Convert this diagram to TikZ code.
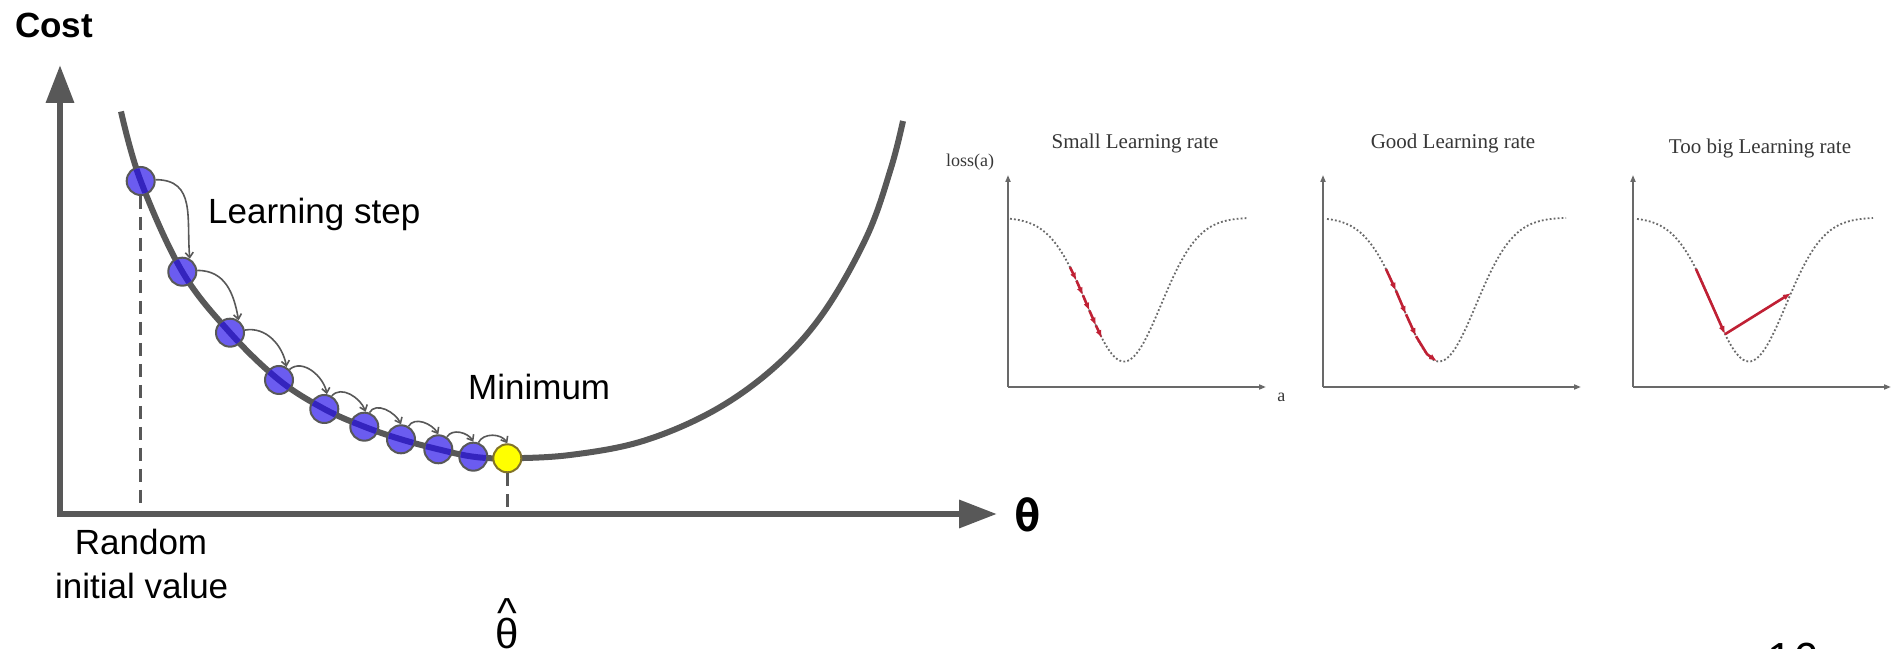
\documentclass[tikz,border=0pt]{standalone}
\usepackage{fontspec}
\setmainfont{Liberation Sans}
\newfontfamily\panelfont{Liberation Serif}
\newfontfamily\thetafont{DejaVu Sans Mono}
\usepackage{xcolor}
\usetikzlibrary{arrows.meta,positioning,calc}

\definecolor{axisgray}{RGB}{88,88,88}
\definecolor{stepblue}{RGB}{107,92,240}
\definecolor{stepline}{RGB}{52,36,190}
\definecolor{minyellow}{RGB}{255,255,0}
\definecolor{minedge}{RGB}{130,115,40}
\definecolor{panelgray}{RGB}{105,105,105}
\definecolor{panelred}{RGB}{192,32,52}
\definecolor{paneltext}{RGB}{55,55,55}

\newcommand{\costcurve}{plot[smooth, tension=0.6] coordinates {(121,536.5) (c1) (c2) (c3) (c4) (c5) (c6) (c7) (c8) (c9) (cmin) (570,193) (643,207) (715,238) (776,282) (824,336) (867,412) (891,480) (903,527)}}

\begin{document}
\begin{tikzpicture}[x=1pt, y=1pt, declare function={loss(\x)=430.5-144*exp(-0.5*((\x-116)/37)^2);}]
  \tikzstyle{axis} = [line width=6.5pt, draw=axisgray]
  \tikzstyle{costline} = [line width=6pt, draw=axisgray]
  \tikzstyle{stepdot} = [circle, minimum size=28pt, inner sep=0pt, fill=stepblue, draw=axisgray, line width=2pt]
  \tikzstyle{mindot} = [stepdot, fill=minyellow, draw=minedge]
  \tikzstyle{hop} = [-{Straight Barb[length=5pt,width=8pt]}, line width=1.6pt, draw=axisgray]
  \tikzstyle{guide} = [line width=3.5pt, draw=axisgray, dash pattern=on 13pt off 8pt]
  \tikzstyle{lbl} = [font=\fontsize{35}{42}\selectfont, inner sep=0pt]
  \tikzstyle{paxis} = [-{Triangle[length=7pt,width=5pt]}, line width=1.8pt, draw=panelgray]
  \tikzstyle{pdots} = [draw=panelgray, line width=1.8pt, dash pattern=on 1.8pt off 2.2pt]
  \tikzstyle{pstep} = [-{Latex[length=8pt,width=6pt]}, line width=2.6pt, draw=panelred]
  \tikzstyle{ptitle} = [font=\panelfont\fontsize{21}{24}\selectfont, text=paneltext]

  \useasboundingbox (0,0) rectangle (1901,648);
  \fill[white] (0,0) rectangle (1901,648);

  % Cost plot axes
  \coordinate (O) at (60,134);
  \coordinate (ytip) at (60,583);
  \coordinate (xtip) at (997,134);
  \draw[axis, {Triangle[length=38pt,width=27pt]}-{Triangle[length=38pt,width=27pt]}] (ytip) -- (O) -- (xtip);

  % Positions of the learning steps
  \coordinate (c1) at (140.7,467);
  \coordinate (c2) at (182.3,376.3);
  \coordinate (c3) at (230,315.3);
  \coordinate (c4) at (279,268);
  \coordinate (c5) at (324.3,239);
  \coordinate (c6) at (364.3,221.3);
  \coordinate (c7) at (401,208.7);
  \coordinate (c8) at (438.3,198.7);
  \coordinate (c9) at (473.3,191.3);
  \coordinate (cmin) at (507.3,189.7);

  \draw[costline] \costcurve;

  \node[stepdot] (p1) at (c1) {};
  \node[stepdot] (p2) at (c2) {};
  \node[stepdot] (p3) at (c3) {};
  \node[stepdot] (p4) at (c4) {};
  \node[stepdot] (p5) at (c5) {};
  \node[stepdot] (p6) at (c6) {};
  \node[stepdot] (p7) at (c7) {};
  \node[stepdot] (p8) at (c8) {};
  \node[stepdot] (p9) at (c9) {};
  \node[mindot] (pmin) at (cmin) {};

  % curve seen through the dots
  \begin{scope}
    \clip (c1) circle (13pt) (c2) circle (13pt) (c3) circle (13pt) (c4) circle (13pt) (c5) circle (13pt)
          (c6) circle (13pt) (c7) circle (13pt) (c8) circle (13pt) (c9) circle (13pt);
    \draw[costline, draw=stepline] \costcurve;
  \end{scope}

  % Learning steps
  \draw[hop] (p1.5) to[out=0,in=95,looseness=1.2] (p2.60);
  \draw[hop] (p2.5) to[out=0,in=100,looseness=1.1] (p3.55);
  \draw[hop] (p3.10) to[out=10,in=100] (p4.60);
  \draw[hop] (p4.45) to[out=40,in=100] (p5.80);
  \draw[hop] (p5.60) to[out=50,in=110] (p6.85);
  \draw[hop] (p6.70) to[out=60,in=115] (p7.90);
  \draw[hop] (p7.60) to[out=60,in=120] (p8.90);
  \draw[hop] (p8.55) to[out=60,in=120] (p9.90);
  \draw[hop] (p9.70) to[out=65,in=120] (pmin.90);

  \draw[guide] (p1.south) -- (p1.south |- O);
  \draw[guide] (pmin.south) -- (pmin.south |- O);

  % Labels
  \node[lbl, font=\bfseries\fontsize{35}{42}\selectfont, anchor=base west] (cost) at (15,610.7) {Cost};
  \node[lbl, anchor=base west] (steplbl) at (208,424.7) {Learning step};
  \node[lbl, anchor=base west] (minlbl) at (468,248) {Minimum};
  \node[lbl, anchor=base] (rnd) at (141,93) {Random};
  \node[lbl, anchor=base] (init) at (141.7,49.7) {initial value};
  \node[lbl, font=\fontsize{42}{50}\selectfont, anchor=north, align=center] (thetahat) at (507.3,50) {\textasciicircum\\[-29pt]θ};
  \node[font=\thetafont\bfseries\fontsize{44}{50}\selectfont, inner sep=0pt] (thetalbl) at (1028,133) {θ};
  \node[lbl, font=\fontsize{45}{50}\selectfont, anchor=north] (pageno) at (1793,5) {16};

  % Small learning rate
  \begin{scope}[shift={(1008,0)}]
    \coordinate (o1) at (0,261);
    \coordinate (ya1) at (0,473);
    \coordinate (xa1) at (258,261);
    \draw[paxis] (o1) -- (ya1);
    \draw[paxis] (o1) -- (xa1);
    \draw[pdots] plot[domain=2:240, samples=90] (\x, {loss(\x)});
    \node[ptitle] (t1) at (127,505) {Small Learning rate};
    \node[ptitle, font=\panelfont\fontsize{18}{22}\selectfont] (yl1) at (-38,486) {loss(a)};
    \node[ptitle, font=\panelfont\fontsize{18}{22}\selectfont] (xl1) at (273.4,251) {a};
    \coordinate (r1a) at (62,{loss(62)});
    \coordinate (r1b) at (68.5,{loss(68.5)});
    \coordinate (r1c) at (75,{loss(75)});
    \coordinate (r1d) at (81.5,{loss(81.5)});
    \coordinate (r1e) at (88,{loss(88)});
    \coordinate (r1f) at (94,{loss(94)});
    \draw[pstep] (r1a) -- (r1b);
    \draw[pstep] (r1b) -- (r1c);
    \draw[pstep] (r1c) -- (r1d);
    \draw[pstep] (r1d) -- (r1e);
    \draw[pstep] (r1e) -- (r1f);
  \end{scope}

  % Good learning rate
  \begin{scope}[shift={(1323,0)}]
    \coordinate (o2) at (0,261);
    \coordinate (ya2) at (0,473);
    \coordinate (xa2) at (258,261);
    \draw[paxis] (o2) -- (ya2);
    \draw[paxis] (o2) -- (xa2);
    \draw[pdots] plot[domain=4:243, samples=90] (\x, {loss(\x)});
    \node[ptitle] (t2) at (130,505) {Good Learning rate};
    \coordinate (r2a) at (63,{loss(63)});
    \coordinate (r2b) at (73,{loss(73)});
    \coordinate (r2c) at (83,{loss(83)});
    \coordinate (r2d) at (93,{loss(93)});
    \coordinate (r2e) at (104,{loss(104)});
    \coordinate (r2f) at (114,{loss(114)});
    \draw[pstep] (r2a) -- (r2b);
    \draw[pstep] (r2b) -- (r2c);
    \draw[pstep] (r2c) -- (r2d);
    \draw[pstep] (r2d) -- (r2e) -- (r2f);
  \end{scope}

  % Too big learning rate
  \begin{scope}[shift={(1633,0)}]
    \coordinate (o3) at (0,261);
    \coordinate (ya3) at (0,473);
    \coordinate (xa3) at (258,261);
    \draw[paxis] (o3) -- (ya3);
    \draw[paxis] (o3) -- (xa3);
    \draw[pdots] plot[domain=4:240, samples=90] (\x, {loss(\x)});
    \node[ptitle] (t3) at (127,500) {Too big Learning rate};
    \coordinate (r3a) at (63,{loss(63)});
    \coordinate (r3b) at (92,{loss(92)});
    \coordinate (r3c) at (158,{loss(158)});
    \draw[pstep] (r3a) -- (r3b);
    \draw[pstep] (r3b) -- (r3c);
  \end{scope}

\end{tikzpicture}
\end{document}
